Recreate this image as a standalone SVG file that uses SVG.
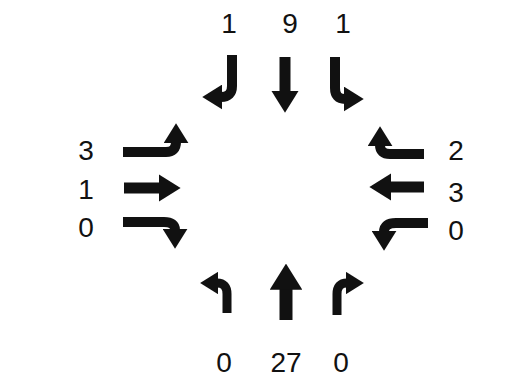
<svg xmlns="http://www.w3.org/2000/svg" width="513" height="380" viewBox="0 0 513 380">
<style>
.n{font-family:"Liberation Sans",Arial,sans-serif;font-size:28px;fill:#111;text-anchor:middle}
.a{fill:none;stroke:#111;stroke-linejoin:round}
</style>
<defs>
<marker id="h" viewBox="0 -5 8 10" refX="0.5" refY="0" markerUnits="strokeWidth" markerWidth="2" markerHeight="2.5" orient="auto">
<path d="M0,-5 L8,0 L0,5 z" fill="#111"/>
</marker>
</defs>
<rect width="513" height="380" fill="#fff"/>
<g id="labels">
<text class="n" x="229" y="33">1</text>
<text class="n" x="290" y="33">9</text>
<text class="n" x="343" y="33">1</text>
<text class="n" x="86" y="160">3</text>
<text class="n" x="86" y="199">1</text>
<text class="n" x="86" y="237">0</text>
<text class="n" x="456" y="160">2</text>
<text class="n" x="456" y="202">3</text>
<text class="n" x="456" y="240">0</text>
<text class="n" x="224" y="372">0</text>
<text class="n" x="286" y="372">27</text>
<text class="n" x="341" y="372">0</text>
</g>
<g id="connectors">
<g id="south-left"><path class="a" stroke-width="10" marker-end="url(#h)" d="M232,55 V86 Q232,97 221,97"/></g>
<g id="south-thru"><path class="a" stroke-width="11" marker-end="url(#h)" d="M285,57 V92"/></g>
<g id="south-right"><path class="a" stroke-width="10" marker-end="url(#h)" d="M335,57 V88 Q335,99 345,99"/></g>
<g id="east-left"><path class="a" stroke-width="10" marker-end="url(#h)" d="M123,152 H166 Q176,152 176,142"/></g>
<g id="east-thru"><path class="a" stroke-width="11" marker-end="url(#h)" d="M124,188 H160"/></g>
<g id="east-right"><path class="a" stroke-width="10" marker-end="url(#h)" d="M123,222 H164 Q175,222 175,230"/></g>
<g id="west-left"><path class="a" stroke-width="10" marker-end="url(#h)" d="M424,154 H390 Q380,154 380,145"/></g>
<g id="west-thru"><path class="a" stroke-width="11" marker-end="url(#h)" d="M424,187 H390"/></g>
<g id="west-right"><path class="a" stroke-width="10" marker-end="url(#h)" d="M428,223 H396 Q384,223 384,232"/></g>
<g id="north-left"><path class="a" stroke-width="9" marker-end="url(#h)" d="M227,313 V294 Q227,283 217,283"/></g>
<g id="north-thru"><path class="a" stroke-width="13" marker-end="url(#h)" d="M286,320 V288"/></g>
<g id="north-right"><path class="a" stroke-width="9" marker-end="url(#h)" d="M337,315 V294 Q337,283 347,283"/></g>
</g>
</svg>
